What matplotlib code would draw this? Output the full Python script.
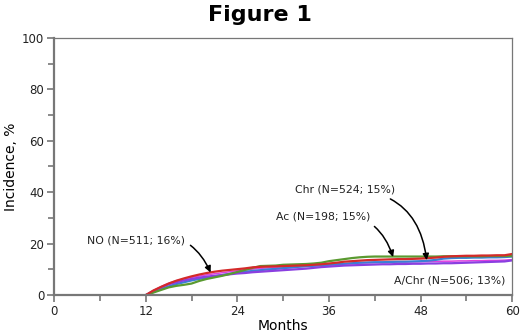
import matplotlib
matplotlib.use('Agg')
import matplotlib.pyplot as plt
import numpy as np

months = list(range(12, 61))

no_vals = [0, 1.8, 3.2, 4.5, 5.6, 6.5, 7.3, 8.0, 8.6, 9.1, 9.5, 9.8, 10.1, 10.4, 10.8, 11.0,
           11.1, 11.2, 11.3, 11.4, 11.5, 11.6, 11.8, 12.0, 12.3, 12.6, 13.0, 13.2, 13.4, 13.6,
           13.7, 13.8, 13.9, 14.0, 14.0, 14.1, 14.2, 14.4, 14.6, 14.9, 15.1, 15.2, 15.3, 15.3,
           15.4, 15.4, 15.5, 15.5, 16.0]
ac_vals = [0, 1.0, 2.0, 3.0, 3.6, 4.0, 4.5, 5.5, 6.3, 6.9, 7.5, 8.2, 9.0, 9.8, 10.6, 11.3,
           11.4, 11.5, 11.8, 11.9, 12.0, 12.1, 12.3, 12.6, 13.2, 13.6, 14.0, 14.4, 14.7, 14.9,
           15.0, 15.0, 15.0, 15.0, 15.0, 15.0, 15.0, 15.0, 15.0, 15.1, 15.1, 15.1, 15.1, 15.1,
           15.1, 15.2, 15.2, 15.2, 15.2]
chr_vals = [0, 1.2, 2.4, 3.4, 4.3, 5.0, 5.7, 6.3, 6.8, 7.3, 7.8, 8.3, 8.8, 9.1, 9.4, 9.7,
            10.0, 10.2, 10.5, 10.7, 11.0, 11.2, 11.4, 11.6, 11.8, 12.0, 12.2, 12.4, 12.6, 12.7,
            12.8, 12.8, 12.9, 13.0, 13.0, 13.1, 13.2, 13.4, 13.7, 14.2, 14.4, 14.5, 14.5, 14.6,
            14.6, 14.7, 14.7, 14.8, 15.0]
achr_vals = [0, 1.6, 3.0, 4.2, 5.0, 5.7, 6.3, 6.8, 7.2, 7.5, 7.8, 8.1, 8.4, 8.6, 8.9, 9.1,
             9.3, 9.5, 9.7, 9.9, 10.1, 10.3, 10.6, 10.9, 11.1, 11.3, 11.5, 11.6, 11.7, 11.8,
             11.9, 12.0, 12.0, 12.1, 12.1, 12.2, 12.2, 12.3, 12.3, 12.4, 12.4, 12.5, 12.6, 12.7,
             12.8, 12.9, 13.0, 13.1, 13.5]
all_vals = [0, 1.7, 3.3, 4.6, 5.6, 6.3, 6.9, 7.4, 7.9, 8.3, 8.7, 9.1, 9.5, 9.8, 10.1, 10.4,
            10.6, 10.8, 11.0, 11.1, 11.2, 11.3, 11.4, 11.5, 11.7, 11.9, 12.1, 12.3, 12.5, 12.6,
            12.7, 12.8, 12.8, 12.9, 12.9, 13.0, 13.0, 13.1, 13.1, 13.2, 13.2, 13.3, 13.3, 13.4,
            13.4, 13.5, 13.5, 13.6, 13.8]

fig = plt.figure(figsize=(5.2, 3.35), dpi=100)
ax = fig.add_axes([0.104, 0.119, 0.881, 0.768])

grey = '#777777'
ax.plot(months, all_vals, color='#e040e0', lw=1.1)
ax.plot(months, chr_vals, color='#3a7fd5', lw=1.6)
ax.plot(months, achr_vals, color='#8a3fe0', lw=1.6)
ax.plot(months, ac_vals, color='#5a9a30', lw=1.6)
ax.plot(months, no_vals, color='#d42a2a', lw=1.6)

ax.set_xlim(0, 60)
ax.set_ylim(0, 100)
ax.set_xticks(np.arange(0, 61, 12))
ax.set_xticks(np.arange(6, 60, 12), minor=True)
ax.set_yticks(np.arange(0, 101, 20))
ax.set_yticks(np.arange(10, 100, 20), minor=True)
ax.tick_params(which='both', direction='out', color=grey, width=1.2, labelsize=8.5,
               labelcolor='#222222', pad=2)
ax.tick_params(which='major', length=5)
ax.tick_params(which='minor', length=4)
for side in ['left', 'bottom']:
    ax.spines[side].set_color(grey)
    ax.spines[side].set_linewidth(1.6)
for side in ['top', 'right']:
    ax.spines[side].set_color(grey)
    ax.spines[side].set_linewidth(0.9)

ax.set_xlabel('Months', fontsize=10, labelpad=1)
ax.set_ylabel('Incidence, %', fontsize=10, labelpad=3)
fig.suptitle('Figure 1', fontsize=16, fontweight='bold', y=0.985)

arrow = dict(arrowstyle='-|>', color='black', lw=1.1, mutation_scale=9,
             connectionstyle='arc3,rad=-0.45', shrinkA=2, shrinkB=0)
fs = 7.8
ax.annotate('NO (N=511; 16%)', xy=(20.5, 8.8), xytext=(17.2, 21.4), fontsize=fs,
            ha='right', va='center', color='#222222', arrowprops=arrow)
ax.annotate('Ac (N=198; 15%)', xy=(44.4, 14.8), xytext=(41.4, 30.4), fontsize=fs,
            ha='right', va='center', color='#222222', arrowprops=arrow)
ax.annotate('Chr (N=524; 15%)', xy=(48.8, 13.6), xytext=(44.7, 40.9), fontsize=fs,
            ha='right', va='center', color='#222222', arrowprops=arrow)
ax.text(59.1, 5.8, 'A/Chr (N=506; 13%)', fontsize=fs, ha='right', va='center', color='#222222')

fig.savefig('out.png', dpi=100)
